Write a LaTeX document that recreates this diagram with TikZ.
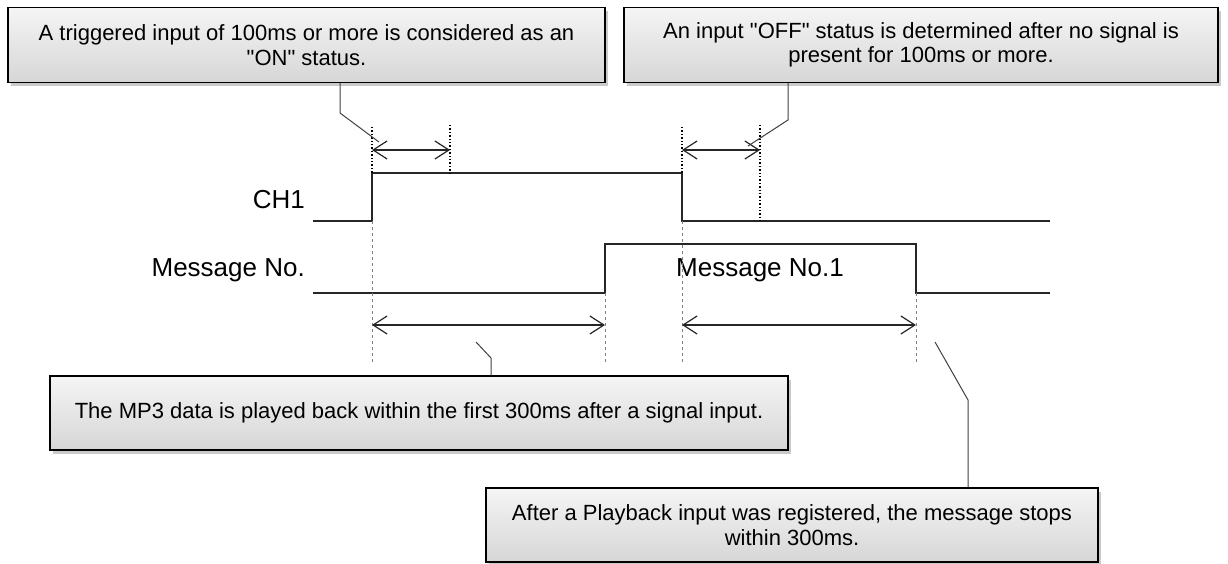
\documentclass[tikz,border=0pt]{standalone}
\usepackage{fontspec}
\setmainfont{Liberation Sans}[Ligatures=TeXOff]
\usetikzlibrary{arrows.meta,shadows}
\begin{document}
\begin{tikzpicture}[x=1pt,y=-1pt,
  note/.style={draw=black,line width=1.4pt,top color=gray!8,bottom color=gray!32,
    drop shadow={shadow xshift=3pt,shadow yshift=-4pt,fill=gray!70,opacity=0.6},
    align=center,inner sep=0pt,font=\fontsize{22}{24.5}\selectfont},
  sig/.style={line width=1.4pt,black!85},
  bolddot/.style={line width=1.4pt,dotted,black},
  thindash/.style={line width=0.6pt,dash pattern=on 3pt off 3pt,gray},
  dim/.style={line width=1.2pt,black!85,{Straight Barb[length=14pt,width=18pt,line width=1.2pt]}-{Straight Barb[length=14pt,width=18pt,line width=1.2pt]}},
  call/.style={line width=1pt,black!75},
  lab/.style={font=\fontsize{26}{30}\selectfont,anchor=east,inner sep=0pt}]
\useasboundingbox (0,0) rectangle (1228,564);
% boxes
\node[note,minimum width=597pt,minimum height=75pt] (b1) at (306.5,45)
  {A triggered input of 100ms or more is considered as an\\ "ON" status.};
\node[note,minimum width=594pt,minimum height=75pt] (b2) at (921,45)
  {An input "OFF" status is determined after no signal is\\ present for 100ms or more.};
\node[note,minimum width=738pt,minimum height=74pt] (b3) at (419,413)
  {The MP3 data is played back within the first 300ms after a signal input.};
\node[note,minimum width=612pt,minimum height=74pt] (b4) at (792,525)
  {After a Playback input was registered, the message stops\\ within 300ms.};
% labels
\node[lab] (l1) at (305,200) {CH1};
\node[lab] (l2) at (305,270) {Message No.};
\node[lab,anchor=west] (l3) at (676,270) {Message No.1};
% signal coordinates
\coordinate (c0) at (313,221);
\coordinate (c1) at (372,221);
\coordinate (c2) at (372,173);
\coordinate (c3) at (682,173);
\coordinate (c4) at (682,221);
\coordinate (c5) at (1050,221);
\coordinate (m0) at (313,293);
\coordinate (m1) at (605,293);
\coordinate (m2) at (605,244);
\coordinate (m3) at (916,244);
\coordinate (m4) at (916,293);
\coordinate (m5) at (1050,293);
\draw[sig] (c0) -- (c1) -- (c2) -- (c3) -- (c4) -- (c5);
\draw[sig] (m0) -- (m1) -- (m2) -- (m3) -- (m4) -- (m5);
% vertical guides
\coordinate (t1) at (372,127);
\coordinate (t2) at (450,125);
\coordinate (t2b) at (450,173);
\coordinate (t3) at (682,127);
\coordinate (t4) at (760,125);
\coordinate (t4b) at (760,221);
\coordinate (g1) at (372,362);
\coordinate (g3) at (682,362);
\coordinate (g5) at (605,362);
\coordinate (g6) at (916,362);
\draw[bolddot] (t1) -- (c2);
\draw[bolddot] (t2) -- (t2b);
\draw[bolddot] (t3) -- (c3);
\draw[bolddot] (t4) -- (t4b);
\draw[thindash] (c1) -- (g1);
\draw[thindash] (c4) -- (g3);
\draw[thindash] (m1) -- (g5);
\draw[thindash] (m4) -- (g6);
% dimension arrows
\coordinate (a1) at (372,150); \coordinate (a2) at (450,150);
\coordinate (a3) at (682,150); \coordinate (a4) at (760,150);
\coordinate (d1) at (372,325); \coordinate (d2) at (605,325);
\coordinate (d3) at (682,325); \coordinate (d4) at (916,325);
\draw[dim] (a1) -- (a2);
\draw[dim] (a3) -- (a4);
\draw[dim] (d1) -- (d2);
\draw[dim] (d3) -- (d4);
% callouts
\coordinate (k1) at (340,113); \coordinate (e1) at (379,142);
\coordinate (k2) at (788,120); \coordinate (e2) at (748,146);
\coordinate (k3) at (491,358); \coordinate (e3) at (476,342);
\coordinate (k4) at (968,400); \coordinate (e4) at (935,342);
\draw[call] (b1.south -| k1) -- (k1) -- (e1);
\draw[call] (b2.south -| k2) -- (k2) -- (e2);
\draw[call] (b3.north -| k3) -- (k3) -- (e3);
\draw[call] (b4.north -| k4) -- (k4) -- (e4);
\end{tikzpicture}
\end{document}
